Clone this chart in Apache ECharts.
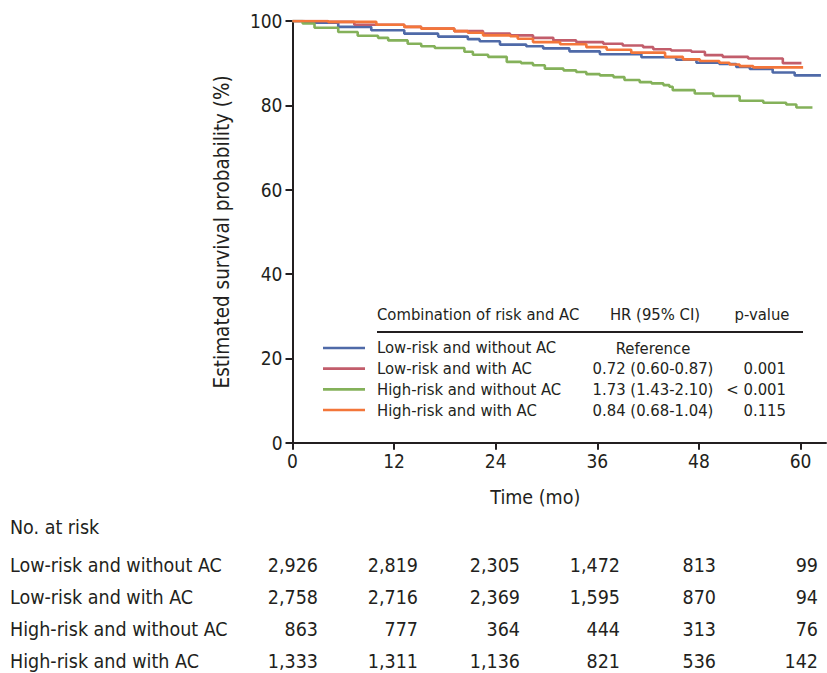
<!DOCTYPE html>
<html>
<head>
<meta charset="utf-8">
<script src="https://cdn.jsdelivr.net/npm/echarts@6/dist/echarts.min.js"></script>
<style>
  html, body { margin: 0; padding: 0; background: #fff; }
  #main { width: 827px; height: 673px; }
</style>
</head>
<body>
<div id="main"></div>
<script>
// group names and colours
const groupNames = ['Low-risk and without AC', 'Low-risk and with AC', 'High-risk and without AC', 'High-risk and with AC'];
const groupColors = ['#4f6aa8', '#c25d6b', '#84b15a', '#f3763a'];

// step curves (months, survival %)
const lowNoAcTime = [0, 1.4, 5.4, 9.3, 13.2, 17.2, 20.7, 22.1, 24.5, 27.6, 29.6, 32.7, 36.3, 41.2, 45.3, 47.7, 50.4, 52.4, 54.0, 56.7, 59.3, 62.4];
const lowNoAcSurv = [100, 99.6, 98.6, 97.8, 97.0, 96.3, 95.7, 95.2, 94.4, 94.0, 93.5, 92.8, 92.1, 91.4, 90.8, 90.1, 89.8, 89.1, 88.6, 87.8, 87.1, 87.1];

const lowAcTime = [0, 4.2, 7.3, 13.2, 15.2, 19.1, 22.5, 25.7, 28.4, 30.8, 33.5, 36.7, 39.0, 41.4, 42.6, 44.7, 47.1, 48.7, 50.8, 53.8, 57.9, 60.1];
const lowAcSurv = [100, 99.8, 99.1, 98.6, 98.2, 97.6, 97.0, 96.6, 96.0, 95.4, 95.0, 94.6, 94.2, 93.8, 93.3, 93.0, 92.7, 91.9, 91.5, 91.1, 90.0, 90.0];

const highNoAcTime = [0, 1.2, 2.6, 5.4, 7.7, 10.1, 11.3, 13.6, 15.2, 16.8, 20.3, 21.3, 23.1, 25.3, 27.0, 28.4, 29.8, 32.0, 33.5, 34.7, 36.3, 37.9, 39.2, 41.0, 42.4, 43.8, 44.5, 44.9, 47.5, 49.7, 52.8, 55.6, 58.3, 59.5, 61.4];
const highNoAcSurv = [100, 99.4, 98.4, 97.4, 96.5, 96.0, 95.4, 94.6, 94.0, 93.6, 92.7, 92.0, 91.5, 90.3, 90.0, 89.5, 88.7, 88.3, 87.9, 87.4, 87.1, 86.7, 86.0, 85.5, 85.2, 84.8, 84.4, 83.6, 82.8, 82.2, 81.1, 80.6, 80.2, 79.5, 79.5];

const highAcTime = [0, 4.2, 9.9, 13.2, 15.2, 19.1, 20.7, 22.5, 25.7, 26.6, 28.4, 31.6, 34.7, 37.1, 40.0, 44.0, 46.1, 48.1, 50.4, 51.6, 52.8, 54.4, 60.3];
const highAcSurv = [100, 99.8, 99.1, 98.6, 98.2, 97.6, 97.2, 96.6, 96.4, 95.8, 95.0, 94.5, 93.8, 93.2, 92.5, 91.5, 90.9, 90.5, 90.1, 89.7, 89.3, 89.0, 89.0];

// legend table
const hrText = ['Reference', '0.72 (0.60-0.87)', '1.73 (1.43-2.10)', '0.84 (0.68-1.04)'];
const pText = ['', '0.001', '< 0.001', '0.115'];

// axes
const xTicks = [0, 12, 24, 36, 48, 60];
const yTicks = [0, 20, 40, 60, 80, 100];

// number at risk
const riskTimes = [0, 12, 24, 36, 48, 60];
const riskLowNoAc = ['2,926', '2,819', '2,305', '1,472', '813', '99'];
const riskLowAc = ['2,758', '2,716', '2,369', '1,595', '870', '94'];
const riskHighNoAc = ['863', '777', '364', '444', '313', '76'];
const riskHighAc = ['1,333', '1,311', '1,136', '821', '536', '142'];

const FONT = '"Liberation Sans Narrow", "DejaVu Sans Condensed", "Roboto", sans-serif';
const INK = '#231f20';

const curves = [
    [lowNoAcTime, lowNoAcSurv],
    [lowAcTime, lowAcSurv],
    [highNoAcTime, highNoAcSurv],
    [highAcTime, highAcSurv]
];

const chart = echarts.init(document.getElementById('main'), null, { renderer: 'svg' });

const series = curves.map((c, i) => ({
    name: groupNames[i],
    type: 'line',
    step: 'end',
    symbol: 'none',
    z: 2 + i,
    data: c[0].map((t, k) => [t, c[1][k]]),
    lineStyle: { color: groupColors[i], width: 2.6 },
    itemStyle: { color: groupColors[i] }
}));

// text pieces laid out with graphic elements
const graphics = [];
const txt = (x, y, s, align, size) => graphics.push({
    type: 'text', x: x, y: y,
    style: { text: s, fill: INK, font: size + 'px ' + FONT, textAlign: align, textVerticalAlign: 'middle' }
});

// legend table header and rule
txt(377, 314, 'Combination of risk and AC', 'left', 16.5);
txt(655, 314, 'HR (95% CI)', 'center', 16.5);
txt(762, 314, 'p-value', 'center', 16.5);
graphics.push({ type: 'line', shape: { x1: 377, y1: 332, x2: 803, y2: 332 }, style: { stroke: INK, lineWidth: 2 } });
const legendRows = [348, 368.7, 389.4, 410.1];
hrText.forEach((s, i) => txt(653, legendRows[i], s, 'center', 16.5));
pText.forEach((s, i) => { if (s) txt(786, legendRows[i], s, 'right', 16.5); });

// number at risk table
const riskRight = [318, 418, 520, 620, 716, 818];
const riskRows = [riskLowNoAc, riskLowAc, riskHighNoAc, riskHighAc];
const riskY = [565, 597, 629, 661];
txt(10, 527, 'No. at risk', 'left', 19.5);
riskRows.forEach((row, r) => {
    txt(10, riskY[r], groupNames[r], 'left', 19.5);
    row.forEach((v, c) => txt(riskRight[c], riskY[r], v, 'right', 19.5));
});

chart.setOption({
    animation: false,
    backgroundColor: '#fff',
    grid: { left: 292.5, right: 1, top: 21, bottom: 230.3, containLabel: false },
    xAxis: {
        type: 'value',
        min: 0,
        max: 63,
        name: 'Time (mo)',
        nameLocation: 'middle',
        nameGap: 45,
        nameTextStyle: { color: INK, fontSize: 19.5, fontFamily: FONT, padding: [0, 48, 0, 0] },
        axisLine: { lineStyle: { color: INK, width: 2 } },
        axisTick: { show: true, length: 7, lineStyle: { color: INK, width: 2 }, customValues: xTicks },
        axisLabel: { color: INK, fontSize: 19, fontFamily: FONT, margin: 9, customValues: xTicks },
        splitLine: { show: false }
    },
    yAxis: {
        type: 'value',
        min: 0,
        max: 100,
        interval: 20,
        name: 'Estimated survival probability (%)',
        nameLocation: 'middle',
        nameGap: 60,
        nameRotate: 90,
        nameTextStyle: { color: INK, fontSize: 20.5, fontFamily: FONT },
        axisLine: { show: true, lineStyle: { color: INK, width: 2 } },
        axisTick: { show: true, length: 7, lineStyle: { color: INK, width: 2 }, customValues: yTicks },
        axisLabel: { color: INK, fontSize: 19, fontFamily: FONT, margin: 10, customValues: yTicks },
        splitLine: { show: false }
    },
    legend: {
        data: groupNames,
        orient: 'vertical',
        left: 323,
        top: 337.6,
        padding: 0,
        itemWidth: 42,
        itemHeight: 2.6,
        itemGap: 0,
        icon: 'rect',
        selectedMode: false,
        textStyle: { color: INK, fontSize: 16.5, fontFamily: FONT, lineHeight: 20.7, padding: [0, 0, 0, 7] }
    },
    graphic: graphics,
    series: series
});
</script>
</body>
</html>
